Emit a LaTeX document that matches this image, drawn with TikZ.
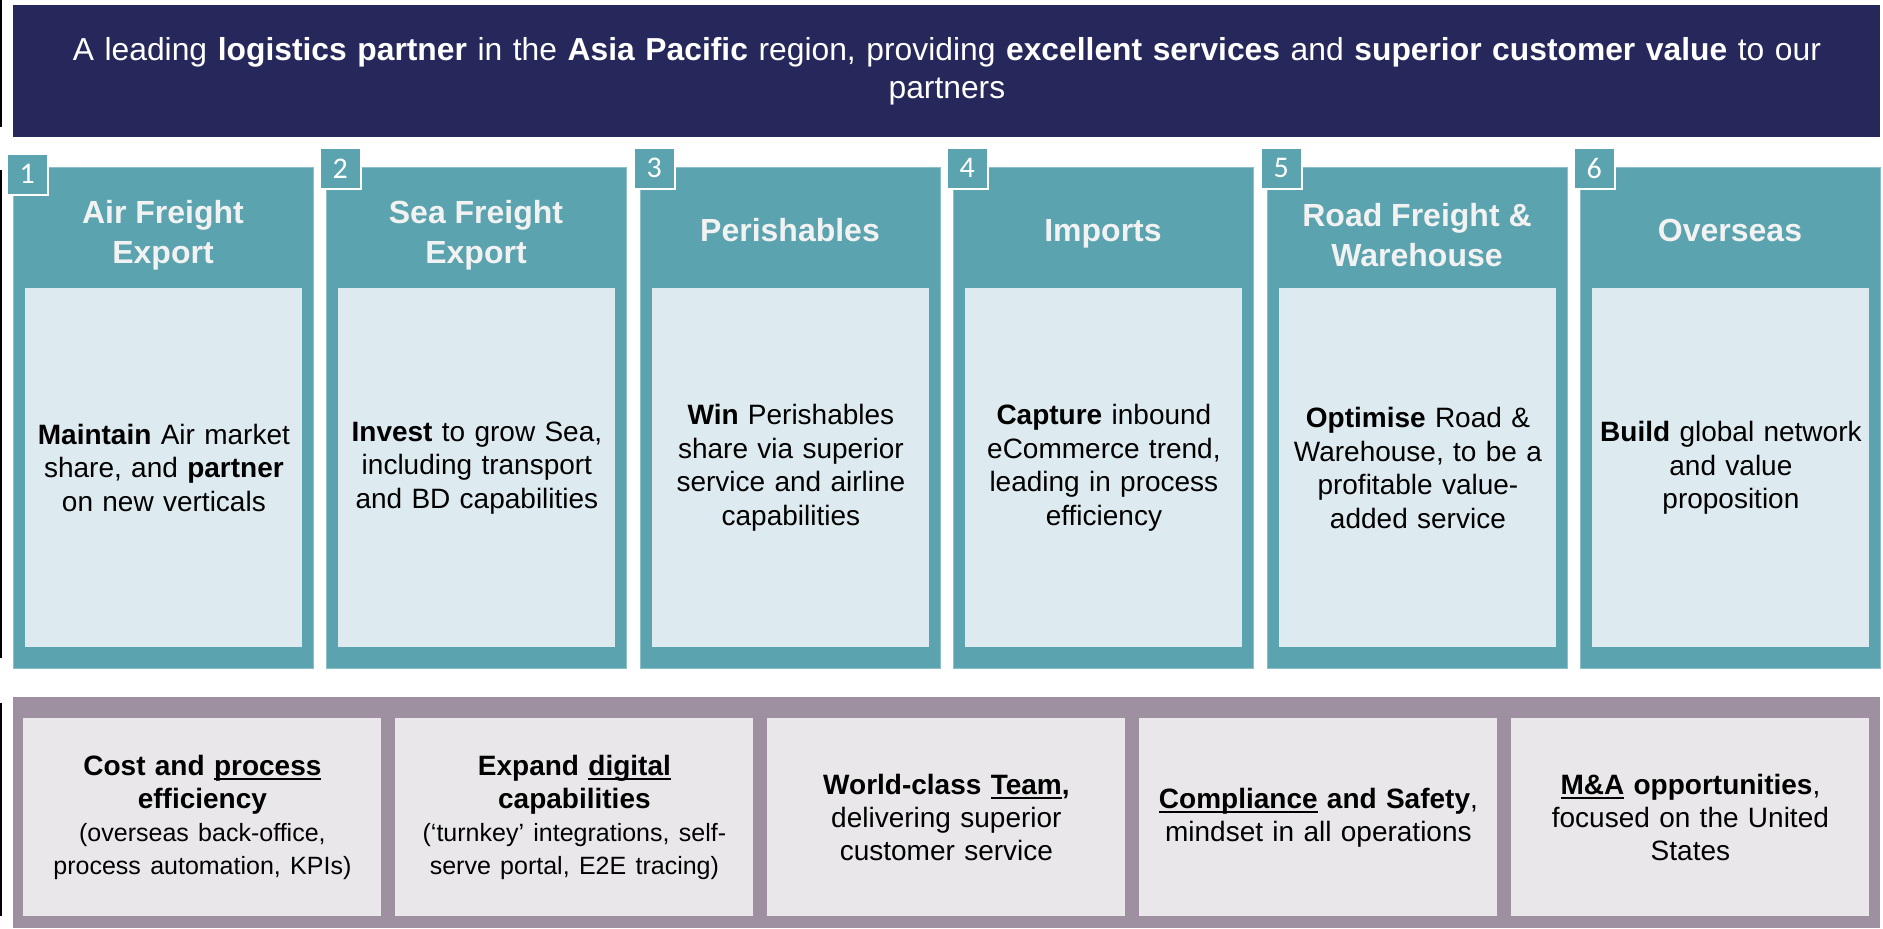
\documentclass[tikz,border=0pt]{standalone}
\usepackage{fontspec}
\setmainfont{Liberation Sans}
\newfontfamily\numfont{Carlito}
\definecolor{navy}{HTML}{26275A}
\definecolor{pillarteal}{HTML}{5BA3AF}
\definecolor{pillaredge}{HTML}{8CC0C9}
\definecolor{pillarpale}{HTML}{DDEAEF}
\definecolor{headtext}{HTML}{F2F2F2}
\definecolor{bandmauve}{HTML}{9E90A0}
\definecolor{cellgrey}{HTML}{E9E7EA}
\newcommand{\subtext}{\fontsize{12.5}{16.25}\selectfont}
\newcommand{\ulword}[1]{\setbox0\hbox{#1}\rlap{\rule[-2.2pt]{\wd0}{0.9pt}}\box0\relax}
\begin{document}
\begin{tikzpicture}[x=0.5pt,y=-0.5pt,
   banner/.style={fill=navy, anchor=north west, inner sep=0pt, minimum width=933.5pt, minimum height=66pt,
      text=white, text width=920pt, align=center, font=\fontsize{15.9}{19}\selectfont},
   pillar/.style={fill=pillarteal, draw=pillaredge, line width=0.5pt, anchor=north west, inner sep=0pt,
      minimum width=150pt, minimum height=250.5pt},
   pillarhead/.style={text=headtext, align=center, font=\fontsize{16}{20}\selectfont\bfseries},
   pillarbody/.style={fill=pillarpale, anchor=north west, inner sep=0pt, minimum width=138.5pt,
      minimum height=179.5pt, text width=134pt, align=center, font=\fontsize{14}{16.75}\selectfont},
   numbox/.style={fill=pillarteal, draw=white, line width=0.8pt, anchor=north west, inner sep=0pt,
      minimum size=20.5pt, text=white, font=\numfont\fontsize{15}{15}\selectfont},
   enabler/.style={fill=cellgrey, anchor=north west, inner sep=0pt, minimum width=179pt,
      minimum height=99pt, text width=174pt, align=center, font=\fontsize{14}{16.5}\selectfont}]
   \useasboundingbox (0,0) rectangle (1883,928);
   \draw[line width=1pt] (1,0) -- (1,127);
   \draw[line width=1pt] (1,170) -- (1,658);
   \draw[line width=1pt] (1,703) -- (1,916);
   % vision banner
   \node[banner] (vision) at (13,5) {A leading \textbf{logistics partner} in the \textbf{Asia Pacific} region, providing \textbf{excellent services} and \textbf{superior customer value} to our\\partners};
   % six pillars
   \node[pillar] (p1) at (13,167) {};
   \node[pillar] (p2) at (326,167) {};
   \node[pillar] (p3) at (640,167) {};
   \node[pillar] (p4) at (953,167) {};
   \node[pillar] (p5) at (1267,167) {};
   \node[pillar] (p6) at (1580,167) {};
   \node[numbox] (n1) at (6,153) {1};
   \node[numbox] (n2) at (319,147) {2};
   \node[numbox] (n3) at (633,147) {3};
   \node[numbox] (n4) at (946,147) {4};
   \node[numbox] (n5) at (1260,147) {5};
   \node[numbox] (n6) at (1573,147) {6};
   \node[pillarhead] (h1) at (163,235) {Air Freight\\Export};
   \node[pillarhead] (h2) at (476,235) {Sea Freight\\Export};
   \node[pillarhead, anchor=base] (h3) at (790,241) {Perishables};
   \node[pillarhead, anchor=base] (h4) at (1103,241) {Imports};
   \node[pillarhead] (h5) at (1417,235) {Road Freight \&\\Warehouse};
   \node[pillarhead, anchor=base] (h6) at (1730,241) {Overseas};
   \node[pillarbody] (b1) at (25,288) {\textbf{Maintain} Air market\\share, and \textbf{partner}\\on new verticals};
   \node[pillarbody] (b2) at (338,288) {\textbf{Invest} to grow Sea,\\including transport\\and BD capabilities};
   \node[pillarbody] (b3) at (652,288) {\textbf{Win} Perishables\\share via superior\\service and airline\\capabilities};
   \node[pillarbody] (b4) at (965,288) {\textbf{Capture} inbound\\eCommerce trend,\\leading in process\\efficiency};
   \node[pillarbody] (b5) at (1279,288) {\textbf{Optimise} Road \&\\Warehouse, to be a\\profitable value-\\added service};
   \node[pillarbody] (b6) at (1592,288) {\textbf{Build} global network\\and value\\proposition};
   % enablers band
   \fill[bandmauve] (13,697) rectangle (1880,928);
   \node[enabler] (e1) at (23,718) {\textbf{Cost and \ulword{process}}\\\textbf{efficiency}\\\subtext (overseas back-office,\\process automation, KPIs)};
   \node[enabler] (e2) at (395,718) {\textbf{Expand \ulword{digital}}\\\textbf{capabilities}\\\subtext (‘turnkey’ integrations, self-\\serve portal, E2E tracing)};
   \node[enabler] (e3) at (767,718) {\textbf{World-class \ulword{Team},}\\delivering superior\\customer service};
   \node[enabler] (e4) at (1139,718) {\textbf{\ulword{Compliance} and Safety},\\mindset in all operations};
   \node[enabler] (e5) at (1511,718) {\textbf{\ulword{M\&A} opportunities},\\focused on the United\\States};
\end{tikzpicture}
\end{document}
